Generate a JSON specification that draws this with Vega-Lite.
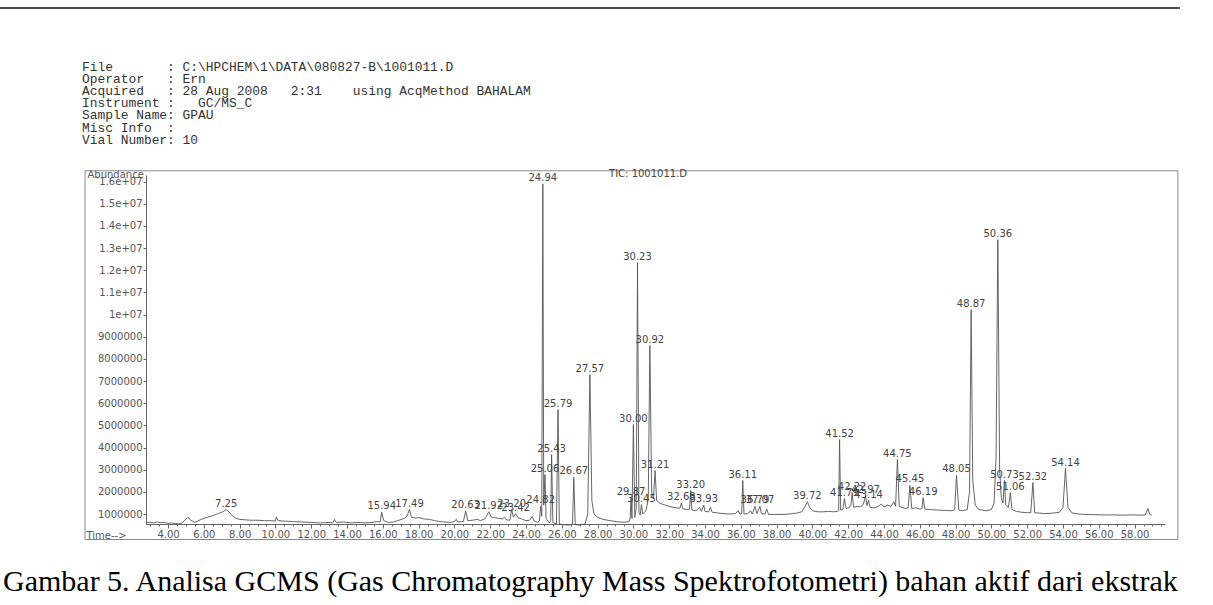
{
  "$schema": "https://vega.github.io/schema/vega-lite/v6.json",
  "width": 1019,
  "height": 349,
  "autosize": "none",
  "padding": {"left": 146, "top": 175, "right": 48, "bottom": 81},
  "background": "#ffffff",
  "config": {"view": {"stroke": null}},
  "resolve": {"axis": {"x": "independent", "y": "independent"}},
  "datasets": {
    "trace": [
      {"t":2.8,"a":620000},{"t":3.0,"a":630000},{"t":3.2,"a":600000},{"t":3.4,"a":640000},{"t":3.6,"a":610000},{"t":3.8,"a":620000},
      {"t":4.0,"a":580000},{"t":4.2,"a":600000},{"t":4.4,"a":570000},{"t":4.6,"a":560000},{"t":4.8,"a":600000},{"t":5.0,"a":780000},
      {"t":5.1,"a":860000},{"t":5.25,"a":740000},{"t":5.45,"a":630000},{"t":5.6,"a":660000},{"t":5.8,"a":740000},{"t":6.0,"a":800000},
      {"t":6.2,"a":860000},{"t":6.4,"a":900000},{"t":6.6,"a":960000},{"t":6.8,"a":1020000},{"t":7.0,"a":1080000},{"t":7.15,"a":1140000},
      {"t":7.25,"a":1200000},{"t":7.4,"a":1100000},{"t":7.6,"a":920000},{"t":7.8,"a":800000},{"t":8.0,"a":760000},{"t":8.3,"a":740000},
      {"t":8.6,"a":720000},{"t":9.0,"a":720000},{"t":9.4,"a":700000},{"t":9.8,"a":700000},{"t":10.0,"a":680000},{"t":10.05,"a":860000},
      {"t":10.15,"a":700000},{"t":10.5,"a":680000},{"t":11.0,"a":660000},{"t":11.5,"a":640000},{"t":12.0,"a":620000},{"t":12.5,"a":600000},
      {"t":13.0,"a":620000},{"t":13.2,"a":600000},{"t":13.3,"a":760000},{"t":13.4,"a":620000},{"t":13.8,"a":640000},{"t":14.2,"a":600000},
      {"t":14.6,"a":620000},{"t":15.0,"a":600000},{"t":15.4,"a":620000},{"t":15.7,"a":660000},{"t":15.85,"a":640000},{"t":15.94,"a":1080000},
      {"t":16.05,"a":700000},{"t":16.3,"a":620000},{"t":16.6,"a":640000},{"t":16.9,"a":720000},{"t":17.2,"a":800000},{"t":17.35,"a":900000},
      {"t":17.49,"a":1200000},{"t":17.6,"a":850000},{"t":17.8,"a":820000},{"t":18.0,"a":840000},{"t":18.3,"a":780000},{"t":18.6,"a":760000},
      {"t":18.9,"a":700000},{"t":19.2,"a":660000},{"t":19.5,"a":640000},{"t":19.8,"a":620000},{"t":20.0,"a":660000},{"t":20.1,"a":760000},
      {"t":20.2,"a":640000},{"t":20.5,"a":660000},{"t":20.63,"a":1130000},{"t":20.75,"a":700000},{"t":21.0,"a":720000},{"t":21.3,"a":760000},
      {"t":21.45,"a":700000},{"t":21.7,"a":780000},{"t":21.92,"a":1100000},{"t":22.05,"a":880000},{"t":22.2,"a":840000},{"t":22.5,"a":800000},
      {"t":22.7,"a":780000},{"t":22.8,"a":860000},{"t":22.9,"a":740000},{"t":23.1,"a":720000},{"t":23.2,"a":1200000},{"t":23.3,"a":860000},
      {"t":23.42,"a":1020000},{"t":23.55,"a":840000},{"t":23.8,"a":760000},{"t":24.0,"a":700000},{"t":24.2,"a":720000},{"t":24.35,"a":900000},
      {"t":24.45,"a":680000},{"t":24.65,"a":620000},{"t":24.75,"a":700000},{"t":24.82,"a":1350000},{"t":24.88,"a":900000},{"t":24.94,"a":15900000},
      {"t":24.99,"a":1400000},{"t":25.06,"a":2780000},{"t":25.12,"a":800000},{"t":25.3,"a":600000},{"t":25.38,"a":700000},{"t":25.43,"a":3680000},
      {"t":25.5,"a":620000},{"t":25.7,"a":550000},{"t":25.79,"a":5710000},{"t":25.86,"a":550000},{"t":26.1,"a":520000},{"t":26.4,"a":500000},
      {"t":26.6,"a":550000},{"t":26.67,"a":2650000},{"t":26.75,"a":520000},{"t":27.0,"a":500000},{"t":27.3,"a":550000},{"t":27.45,"a":1000000},
      {"t":27.57,"a":7290000},{"t":27.68,"a":1600000},{"t":27.8,"a":1000000},{"t":28.0,"a":850000},{"t":28.3,"a":760000},{"t":28.7,"a":700000},
      {"t":29.1,"a":650000},{"t":29.5,"a":630000},{"t":29.75,"a":660000},{"t":29.82,"a":800000},{"t":29.87,"a":1740000},{"t":29.92,"a":800000},
      {"t":30.0,"a":5040000},{"t":30.08,"a":850000},{"t":30.16,"a":1300000},{"t":30.23,"a":12340000},{"t":30.31,"a":1050000},{"t":30.38,"a":950000},
      {"t":30.45,"a":1430000},{"t":30.52,"a":1000000},{"t":30.7,"a":1150000},{"t":30.83,"a":1650000},{"t":30.92,"a":8600000},{"t":31.02,"a":2000000},
      {"t":31.12,"a":1700000},{"t":31.21,"a":2960000},{"t":31.3,"a":1600000},{"t":31.5,"a":1480000},{"t":31.8,"a":1400000},{"t":32.1,"a":1320000},
      {"t":32.4,"a":1280000},{"t":32.6,"a":1260000},{"t":32.68,"a":1500000},{"t":32.75,"a":1240000},{"t":33.0,"a":1200000},{"t":33.14,"a":1220000},
      {"t":33.2,"a":2060000},{"t":33.27,"a":1180000},{"t":33.5,"a":1150000},{"t":33.7,"a":1300000},{"t":33.8,"a":1120000},{"t":33.93,"a":1400000},
      {"t":34.0,"a":1120000},{"t":34.2,"a":1100000},{"t":34.3,"a":1300000},{"t":34.4,"a":1080000},{"t":34.7,"a":1050000},{"t":35.0,"a":1020000},
      {"t":35.4,"a":1000000},{"t":35.7,"a":1020000},{"t":35.85,"a":1150000},{"t":35.95,"a":1000000},{"t":36.05,"a":1020000},{"t":36.11,"a":2510000},
      {"t":36.18,"a":1000000},{"t":36.4,"a":1020000},{"t":36.55,"a":1150000},{"t":36.65,"a":1000000},{"t":36.79,"a":1350000},{"t":36.9,"a":1020000},
      {"t":37.07,"a":1350000},{"t":37.15,"a":1020000},{"t":37.35,"a":1000000},{"t":37.45,"a":1220000},{"t":37.55,"a":980000},{"t":37.9,"a":980000},
      {"t":38.3,"a":980000},{"t":38.7,"a":1000000},{"t":39.1,"a":1040000},{"t":39.4,"a":1100000},{"t":39.6,"a":1350000},{"t":39.72,"a":1560000},
      {"t":39.85,"a":1300000},{"t":40.0,"a":1150000},{"t":40.3,"a":1100000},{"t":40.6,"a":1100000},{"t":40.9,"a":1120000},{"t":41.2,"a":1100000},
      {"t":41.4,"a":1120000},{"t":41.47,"a":1150000},{"t":41.52,"a":4360000},{"t":41.58,"a":1180000},{"t":41.7,"a":1200000},{"t":41.79,"a":1700000},
      {"t":41.88,"a":1250000},{"t":42.05,"a":1280000},{"t":42.15,"a":1400000},{"t":42.22,"a":1970000},{"t":42.3,"a":1300000},{"t":42.5,"a":1350000},
      {"t":42.7,"a":1320000},{"t":42.85,"a":1450000},{"t":42.97,"a":1830000},{"t":43.05,"a":1380000},{"t":43.14,"a":1610000},{"t":43.22,"a":1300000},
      {"t":43.45,"a":1280000},{"t":43.7,"a":1350000},{"t":43.85,"a":1450000},{"t":44.0,"a":1320000},{"t":44.2,"a":1400000},{"t":44.4,"a":1350000},
      {"t":44.55,"a":1550000},{"t":44.65,"a":1350000},{"t":44.75,"a":3460000},{"t":44.85,"a":1350000},{"t":45.0,"a":1300000},{"t":45.2,"a":1250000},
      {"t":45.35,"a":1280000},{"t":45.45,"a":2290000},{"t":45.55,"a":1250000},{"t":45.8,"a":1280000},{"t":46.0,"a":1220000},{"t":46.12,"a":1250000},
      {"t":46.19,"a":1740000},{"t":46.28,"a":1220000},{"t":46.6,"a":1200000},{"t":47.0,"a":1180000},{"t":47.4,"a":1160000},{"t":47.8,"a":1150000},
      {"t":47.95,"a":1200000},{"t":48.05,"a":2740000},{"t":48.18,"a":1180000},{"t":48.4,"a":1150000},{"t":48.65,"a":1200000},{"t":48.78,"a":2000000},
      {"t":48.87,"a":10220000},{"t":48.96,"a":2500000},{"t":49.1,"a":1400000},{"t":49.3,"a":1200000},{"t":49.7,"a":1150000},{"t":50.0,"a":1200000},
      {"t":50.15,"a":1500000},{"t":50.26,"a":3500000},{"t":50.36,"a":13380000},{"t":50.46,"a":3000000},{"t":50.56,"a":1700000},{"t":50.65,"a":1500000},
      {"t":50.73,"a":2510000},{"t":50.8,"a":1400000},{"t":50.95,"a":1300000},{"t":51.06,"a":1970000},{"t":51.15,"a":1200000},{"t":51.4,"a":1120000},
      {"t":51.7,"a":1080000},{"t":52.0,"a":1060000},{"t":52.2,"a":1060000},{"t":52.32,"a":2420000},{"t":52.42,"a":1060000},{"t":52.7,"a":1040000},
      {"t":53.0,"a":1020000},{"t":53.4,"a":1040000},{"t":53.8,"a":1080000},{"t":54.0,"a":1300000},{"t":54.14,"a":3050000},{"t":54.28,"a":1300000},
      {"t":54.5,"a":1050000},{"t":54.9,"a":1000000},{"t":55.3,"a":980000},{"t":55.8,"a":970000},{"t":56.3,"a":960000},{"t":56.8,"a":960000},
      {"t":57.3,"a":950000},{"t":57.8,"a":960000},{"t":58.3,"a":950000},{"t":58.6,"a":960000},{"t":58.75,"a":1250000},{"t":58.85,"a":970000},
      {"t":58.95,"a":960000}
    ],
    "peaks": [
      {"t":7.25,"a":1200000},{"t":15.94,"a":1080000},{"t":17.49,"a":1200000},{"t":20.63,"a":1130000},{"t":21.92,"a":1100000},
      {"t":23.2,"a":1200000},{"t":23.42,"a":1020000},{"t":24.82,"a":1350000},{"t":24.94,"a":15900000},{"t":25.06,"a":2780000},
      {"t":25.43,"a":3680000},{"t":25.79,"a":5710000},{"t":26.67,"a":2650000},{"t":27.57,"a":7290000},{"t":29.87,"a":1740000},
      {"t":30.0,"a":5040000},{"t":30.23,"a":12340000},{"t":30.45,"a":1430000},{"t":30.92,"a":8600000},{"t":31.21,"a":2960000},
      {"t":32.68,"a":1500000},{"t":33.2,"a":2060000},{"t":33.93,"a":1400000},{"t":36.11,"a":2510000},{"t":36.79,"a":1350000},
      {"t":37.07,"a":1350000},{"t":39.72,"a":1560000},{"t":41.52,"a":4360000},{"t":41.79,"a":1700000},{"t":42.22,"a":1970000},
      {"t":42.97,"a":1830000},{"t":43.14,"a":1610000},{"t":44.75,"a":3460000},{"t":45.45,"a":2290000},{"t":46.19,"a":1740000},
      {"t":48.05,"a":2740000},{"t":48.87,"a":10220000},{"t":50.36,"a":13380000},{"t":50.73,"a":2510000},{"t":51.06,"a":1970000},
      {"t":52.32,"a":2420000},{"t":54.14,"a":3050000}
    ]
  },
  "layer": [
    {
      "data": {"name": "trace"},
      "mark": {"type": "line", "color": "#555555", "strokeWidth": 0.9},
      "encoding": {
        "x": {
          "field": "t", "type": "quantitative",
          "scale": {"domain": [2.77, 59.7], "nice": false, "zero": false},
          "axis": {
            "values": [3,3.5,4,4.5,5,5.5,6,6.5,7,7.5,8,8.5,9,9.5,10,10.5,11,11.5,12,12.5,13,13.5,14,14.5,15,15.5,16,16.5,17,17.5,18,18.5,19,19.5,20,20.5,21,21.5,22,22.5,23,23.5,24,24.5,25,25.5,26,26.5,27,27.5,28,28.5,29,29.5,30,30.5,31,31.5,32,32.5,33,33.5,34,34.5,35,35.5,36,36.5,37,37.5,38,38.5,39,39.5,40,40.5,41,41.5,42,42.5,43,43.5,44,44.5,45,45.5,46,46.5,47,47.5,48,48.5,49,49.5,50,50.5,51,51.5,52,52.5,53,53.5,54,54.5,55,55.5,56,56.5,57,57.5,58,58.5,59,59.5],
            "labelExpr": "datum.value % 2 == 0 && datum.value >= 4 && datum.value <= 58 ? format(datum.value, '.2f') : ''",
            "labelOverlap": false,
            "labelFlush": false,
            "labelFont": "DejaVu Sans",
            "labelFontSize": 10,
            "labelColor": "#555555",
            "labelPadding": 1,
            "tickSize": {"condition": {"test": "datum.value % 2 == 0", "value": 4}, "value": 2},
            "tickColor": "#666666",
            "domainColor": "#666666",
            "grid": false,
            "title": "Time-->",
            "titleX": -60,
            "titleY": 11,
            "titleAlign": "left",
            "titleBaseline": "middle",
            "titleAngle": 0,
            "titleFont": "DejaVu Sans",
            "titleFontSize": 10,
            "titleFontWeight": "normal",
            "titleColor": "#555555"
          }
        },
        "y": {
          "field": "a", "type": "quantitative",
          "scale": {"domain": [550000, 16300000], "nice": false, "zero": false},
          "axis": {
            "values": [1000000,2000000,3000000,4000000,5000000,6000000,7000000,8000000,9000000,10000000,11000000,12000000,13000000,14000000,15000000,16000000],
            "labelExpr": "datum.value >= 10000000 ? (datum.value == 10000000 ? '1e+07' : format(datum.value / 10000000, '.1f') + 'e+07') : format(datum.value, 'd')",
            "labelOverlap": false,
            "labelFont": "DejaVu Sans",
            "labelFontSize": 10,
            "labelColor": "#555555",
            "labelPadding": 1,
            "tickSize": 3,
            "tickColor": "#666666",
            "domainColor": "#666666",
            "grid": false,
            "title": "Abundance",
            "titleX": -59,
            "titleY": -1,
            "titleAlign": "left",
            "titleBaseline": "middle",
            "titleAngle": 0,
            "titleFont": "DejaVu Sans",
            "titleFontSize": 10,
            "titleFontWeight": "normal",
            "titleColor": "#555555"
          }
        }
      }
    },
    {
      "data": {"values": [{}]},
      "mark": {"type": "rule", "color": "#111111", "strokeWidth": 1.5},
      "encoding": {
        "x": {"datum": -5.386, "type": "quantitative", "axis": null},
        "x2": {"datum": 60.53},
        "y": {"datum": 23840000, "type": "quantitative", "axis": null}
      }
    },
    {
      "data": {"values": [{}]},
      "mark": {"type": "rect", "fill": null, "stroke": "#8a8a8a", "strokeWidth": 1},
      "encoding": {
        "x": {"datum": -0.637, "type": "quantitative", "axis": null},
        "x2": {"datum": 60.42},
        "y": {"datum": 16490000, "type": "quantitative", "axis": null},
        "y2": {"datum": -150000}
      }
    },
    {
      "data": {"name": "peaks"},
      "mark": {"type": "text", "font": "DejaVu Sans", "fontSize": 10, "color": "#444444", "align": "center", "baseline": "bottom", "dy": -1},
      "encoding": {
        "x": {"field": "t", "type": "quantitative", "axis": null},
        "y": {"field": "a", "type": "quantitative", "axis": null},
        "text": {"field": "t", "type": "quantitative", "format": ".2f"}
      }
    },
    {
      "data": {"values": [{}]},
      "mark": {"type": "text", "font": "DejaVu Sans", "fontSize": 10, "color": "#444444", "align": "left", "baseline": "middle", "text": "TIC: 1001011.D"},
      "encoding": {
        "x": {"datum": 28.64, "type": "quantitative", "axis": null},
        "y": {"datum": 16330000, "type": "quantitative", "axis": null}
      }
    },
    {
      "data": {"values": [{}]},
      "mark": {
        "type": "text", "font": "Liberation Mono", "fontSize": 12.9, "lineHeight": 12.1, "color": "#333333", "align": "left", "baseline": "alphabetic",
        "text": [
          "File\u00a0\u00a0\u00a0\u00a0\u00a0\u00a0\u00a0: C:\\HPCHEM\\1\\DATA\\080827-B\\1001011.D",
          "Operator\u00a0\u00a0\u00a0: Ern",
          "Acquired\u00a0\u00a0\u00a0: 28 Aug 2008\u00a0\u00a0\u00a02:31\u00a0\u00a0\u00a0\u00a0using AcqMethod BAHALAM",
          "Instrument :\u00a0\u00a0\u00a0GC/MS_C",
          "Sample Name: GPAU",
          "Misc Info\u00a0\u00a0:",
          "Vial Number: 10"
        ]
      },
      "encoding": {
        "x": {"datum": -0.805, "type": "quantitative", "axis": null},
        "y": {"datum": 20990000, "type": "quantitative", "axis": null}
      }
    },
    {
      "data": {"values": [{}]},
      "mark": {"type": "text", "font": "Liberation Serif", "fontSize": 30, "color": "#000000", "align": "left", "baseline": "alphabetic",
        "text": "Gambar 5. Analisa GCMS (Gas Chromatography Mass Spektrofotometri) bahan aktif dari ekstrak"},
      "encoding": {
        "x": {"datum": -5.219, "type": "quantitative", "axis": null},
        "y": {"datum": -2473000, "type": "quantitative", "axis": null}
      }
    }
  ]
}
